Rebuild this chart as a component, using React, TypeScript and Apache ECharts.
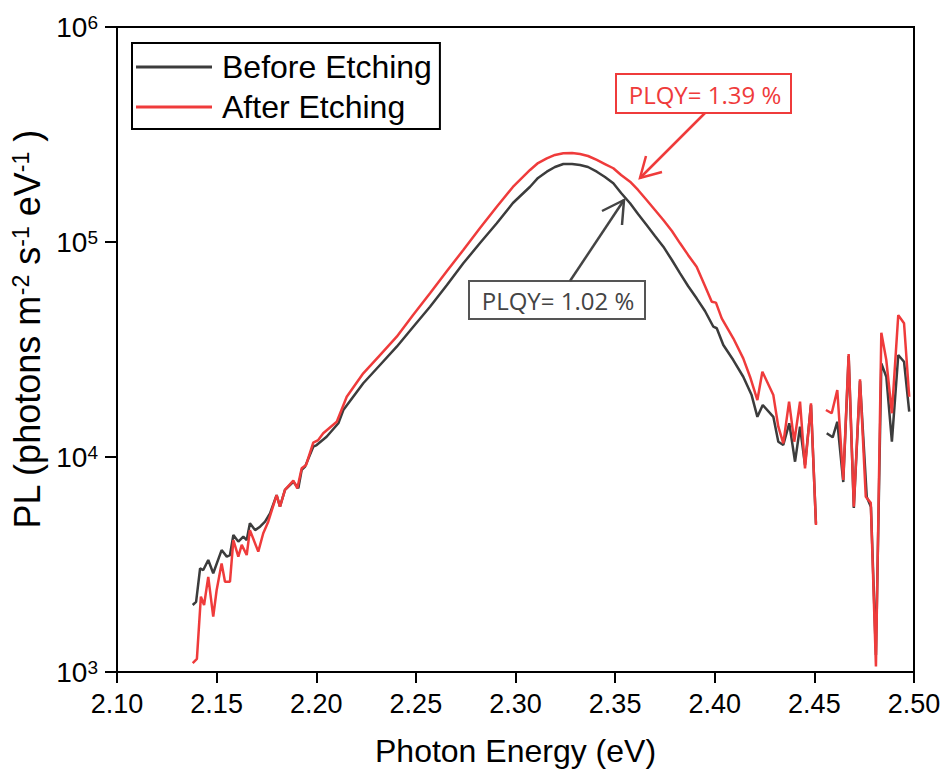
import React, { useEffect, useRef } from 'react';
import * as echarts from 'echarts';

const beforeX = [2.138, 2.1397, 2.1417, 2.1433, 2.1458, 2.1483, 2.1525, 2.1551, 2.1567, 2.1584, 2.1609, 2.1634, 2.1651, 2.1667, 2.1693, 2.1718, 2.1743, 2.1768, 2.1801, 2.1818, 2.1843, 2.1885, 2.191, 2.1927, 2.1944, 2.1985, 2.2002, 2.2052, 2.2111, 2.2136, 2.2236, 2.232, 2.2404, 2.2486, 2.2571, 2.2656, 2.2738, 2.2822, 2.2906, 2.2987, 2.3073, 2.3113, 2.3157, 2.3198, 2.324, 2.3284, 2.3324, 2.3364, 2.3408, 2.3449, 2.3491, 2.353, 2.3575, 2.3615, 2.3658, 2.37, 2.3742, 2.3785, 2.3826, 2.3866, 2.3909, 2.3951, 2.3993, 2.401, 2.4043, 2.4093, 2.4143, 2.4185, 2.4214, 2.4241, 2.4294, 2.4319, 2.4344, 2.4374, 2.4403, 2.4428, 2.4453, 2.4483, 2.4508, 2.4535, 2.4562, 2.4592, 2.4615, 2.4645, 2.4672, 2.4698, 2.4729, 2.4763, 2.4784, 2.4809, 2.4836, 2.4861, 2.4889, 2.4921, 2.495, 2.4976];
const beforeY = [2050, 2120, 3030, 2980, 3320, 2880, 3690, 3440, 3500, 4340, 4040, 4260, 4110, 4920, 4570, 4740, 5000, 5470, 6650, 5880, 7030, 7670, 7150, 8710, 9020, 11170, 11370, 12420, 14350, 16550, 22030, 26790, 32580, 40270, 50000, 63100, 79600, 98900, 122200, 151800, 180700, 198600, 212300, 223300, 230500, 230500, 228100, 223300, 212300, 200500, 187500, 169000, 151400, 134900, 119900, 106700, 95100, 82450, 71500, 62400, 54700, 47750, 40360, 39700, 33190, 28250, 23620, 19410, 15380, 17460, 15380, 11780, 11370, 14350, 9510, 13830, 9180, 17460, 4900, null, 12890, 12350, 14590, 7650, 29500, 5790, 22560, 6510, 5850, 1200, 27270, 23620, 11780, 29800, 27750, 16240];

const afterX = [2.138, 2.1401, 2.1421, 2.1437, 2.1458, 2.1483, 2.15, 2.1525, 2.1542, 2.1567, 2.1584, 2.1609, 2.1626, 2.1651, 2.1667, 2.1709, 2.1734, 2.1759, 2.1801, 2.1818, 2.1843, 2.1885, 2.1905, 2.1927, 2.1949, 2.1985, 2.201, 2.2035, 2.2103, 2.2153, 2.2236, 2.232, 2.2404, 2.2486, 2.2571, 2.2656, 2.2738, 2.2822, 2.2906, 2.2987, 2.3073, 2.3113, 2.3157, 2.3198, 2.324, 2.3284, 2.3324, 2.3364, 2.3408, 2.3449, 2.3491, 2.353, 2.3575, 2.3615, 2.3658, 2.37, 2.3742, 2.3785, 2.3826, 2.3866, 2.3909, 2.3951, 2.3985, 2.4006, 2.4035, 2.4093, 2.4143, 2.4177, 2.4214, 2.4239, 2.4294, 2.4319, 2.4344, 2.4373, 2.4399, 2.4428, 2.4453, 2.4483, 2.4508, 2.4533, 2.4558, 2.4587, 2.4615, 2.4645, 2.4672, 2.4698, 2.4729, 2.4758, 2.4783, 2.4809, 2.4836, 2.4861, 2.4889, 2.4921, 2.495, 2.4976];
const afterY = [1100, 1150, 2240, 2050, 2770, 1810, 2400, 3200, 2630, 2630, 4110, 3440, 3900, 3500, 4570, 3630, 4420, 5000, 6650, 5880, 7030, 7760, 7150, 8860, 9180, 11660, 11990, 12890, 14590, 19060, 24500, 29800, 36280, 45710, 57700, 73280, 91800, 116100, 145900, 180300, 216300, 232900, 245000, 254100, 258600, 259400, 256600, 251200, 240700, 230500, 220300, 205100, 190700, 174600, 156800, 140900, 126600, 112500, 98600, 87100, 76740, 62400, 52770, 52240, 44160, 35650, 28770, 23620, 18410, 24930, 19410, 13830, 11580, 18080, 11780, 18080, 8860, 17780, 4830, null, 16550, 15970, 20490, 7820, 30130, 5880, 22980, 6530, 6120, 1060, 37840, 28250, 15970, 45710, 41880, 19060];

const seriesNames = ['Before Etching', 'After Etching'];
const plqyLabels = ['PLQY= 1.02 %', 'PLQY= 1.39 %'];
const xMin = 2.1;
const xMax = 2.5;
const xStep = 0.05;
const yMin = 1e3;
const yMax = 1e6;

const RED = '#ef3b3b';
const DARK = '#3c3c3c';
const FONT = '"Liberation Sans", Arial, sans-serif';

function pairs(xs: number[], ys: (number | null)[]) {
  return xs.map((x, i) => [x, ys[i] === null ? '-' : ys[i]]);
}

export default function App() {
  const ref = useRef<HTMLDivElement>(null);
  useEffect(() => {
    document.body.style.margin = '0';
    const chart = echarts.init(ref.current!, null, { renderer: 'svg' });
    const option: any = {
      animation: false,
      backgroundColor: '#fff',
      grid: {
        left: 117, right: 33, top: 27, bottom: 102,
        show: true, borderColor: '#000', borderWidth: 2, containLabel: false,
      },
      legend: {
        data: seriesNames,
        orient: 'vertical',
        left: 132, top: 43,
        icon: 'rect',
        itemWidth: 76, itemHeight: 3, itemGap: 8,
        padding: [8, 8, 6, 4],
        borderColor: '#000', borderWidth: 2,
        backgroundColor: '#fff',
        textStyle: { fontSize: 32, color: '#000', fontFamily: FONT, padding: [0, 0, 0, 5] },
      },
      xAxis: {
        type: 'value', min: xMin, max: xMax, interval: xStep,
        axisLine: { show: true, lineStyle: { color: '#000', width: 2 } },
        axisTick: { show: true, length: 11, lineStyle: { color: '#000', width: 2 } },
        splitLine: { show: false },
        axisLabel: {
          formatter: (v: number) => v.toFixed(2), fontSize: 27, color: '#000',
          fontFamily: FONT, margin: 18, showMinLabel: true, showMaxLabel: true,
        },
        name: 'Photon Energy (eV)', nameLocation: 'middle', nameGap: 63,
        nameTextStyle: { fontSize: 32, color: '#000', fontFamily: FONT },
      },
      yAxis: {
        type: 'log', logBase: 10, min: yMin, max: yMax,
        axisLine: { show: true, lineStyle: { color: '#000', width: 2 } },
        axisTick: { show: true, length: 12, lineStyle: { color: '#000', width: 2 } },
        splitLine: { show: false },
        minorTick: { show: false },
        axisLabel: {
          formatter: (v: number) => '{b|10}{s|' + Math.round(Math.log10(v)) + '}',
          margin: 19, color: '#000', fontFamily: FONT, fontSize: 28,
          rich: {
            b: { fontSize: 28, color: '#000', fontFamily: FONT },
            s: { fontSize: 19, color: '#000', fontFamily: FONT, verticalAlign: 'top', lineHeight: 19 },
          },
        },
        name: 'PL (photons m{s|-2} s{s|-1} eV{s|-1} )',
        nameLocation: 'middle', nameGap: 66, nameRotate: 90,
        nameTextStyle: {
          fontSize: 36, color: '#000', fontFamily: FONT, padding: [0, 0, 0, 40],
          rich: {
            s: { fontSize: 23, color: '#000', fontFamily: FONT, verticalAlign: 'top', lineHeight: 23 },
          },
        },
      },
      series: [
        {
          name: seriesNames[0], type: 'line', data: pairs(beforeX, beforeY),
          showSymbol: false, connectNulls: false,
          lineStyle: { color: DARK, width: 2.5 }, itemStyle: { color: DARK }, z: 2,
        },
        {
          name: seriesNames[1], type: 'line', data: pairs(afterX, afterY),
          showSymbol: false, connectNulls: false,
          lineStyle: { color: RED, width: 2.5 }, itemStyle: { color: RED }, z: 3,
        },
      ],
      graphic: [
        { type: 'rect', z: 10, shape: { x: 616, y: 74, width: 175, height: 39 }, style: { fill: '#fff', stroke: RED, lineWidth: 2 } },
        { type: 'text', z: 11, x: 705, y: 94, style: { text: plqyLabels[1], fill: RED, fontSize: 24, fontFamily: '"Open Sans", sans-serif', align: 'center', verticalAlign: 'middle' } },
        { type: 'line', z: 10, shape: { x1: 705, y1: 113, x2: 640, y2: 178 }, style: { stroke: RED, lineWidth: 2.5 } },
        { type: 'polyline', z: 10, shape: { points: [[646, 156], [640, 178], [662, 172]] }, style: { stroke: RED, lineWidth: 2.5, fill: 'none' } },
        { type: 'rect', z: 10, shape: { x: 469, y: 281, width: 176, height: 38 }, style: { fill: '#fff', stroke: '#555', lineWidth: 2 } },
        { type: 'text', z: 11, x: 558, y: 300, style: { text: plqyLabels[0], fill: '#444', fontSize: 24, fontFamily: '"Open Sans", sans-serif', align: 'center', verticalAlign: 'middle' } },
        { type: 'line', z: 10, shape: { x1: 570, y1: 281, x2: 624, y2: 200 }, style: { stroke: '#444', lineWidth: 2.5 } },
        { type: 'polyline', z: 10, shape: { points: [[602, 211], [624, 200], [622, 225]] }, style: { stroke: '#444', lineWidth: 2.5, fill: 'none' } },
      ],
    };
    chart.setOption(option);
    return () => chart.dispose();
  }, []);
  return <div ref={ref} style={{ width: 947, height: 774 }} />;
}
